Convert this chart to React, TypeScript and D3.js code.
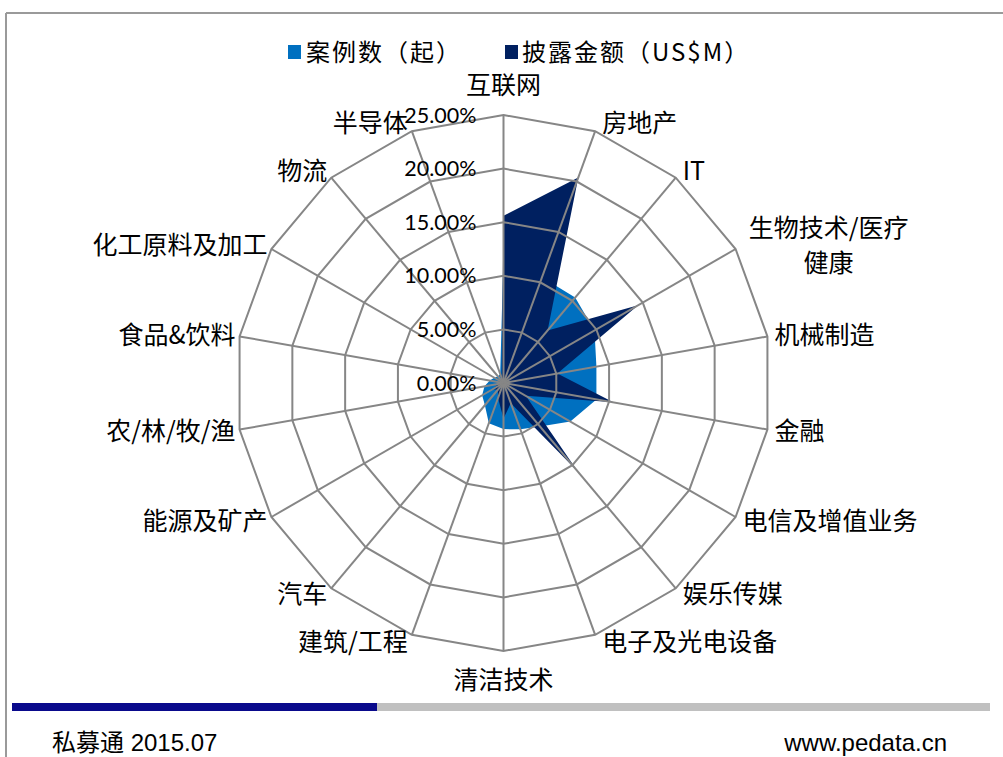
import React from 'react'
import * as d3 from 'd3'

const categories = [
  '互联网', '房地产', 'IT', '生物技术/医疗|健康', '机械制造', '金融',
  '电信及增值业务', '娱乐传媒', '电子及光电设备', '清洁技术', '建筑/工程', '汽车',
  '能源及矿产', '农/林/牧/渔', '食品&饮料', '化工原料及加工', '物流', '半导体',
]
// share of cases (%)
const caseShare = [12, 10.5, 10.4, 9.8, 8.8, 8.8, 7.2, 5.3, 4.6, 4.3, 4.0, 2.7, 2.3, 1.8, 1.3, 1.0, 0.8, 0.9]
// share of disclosed amount (%)
const amountShare = [15.6, 20.4, 6.4, 14.5, 5.1, 10.4, 2.4, 10.8, 2.0, 3.3, 1.5, 0.8, 1.2, 0.5, 0.6, 0.4, 0.3, 0.5]
const ticks = [0, 5, 10, 15, 20, 25]
const seriesNames = ['案例数（起）', '披露金额（US$M）']

const W = 1003
const H = 757
const cx = 503.5
const cy = 383
const R = 268
const cjk = '"Noto Sans CJK SC", "Noto Sans", sans-serif'
const gridColor = '#868686'

const App = () => {
  const r = d3.scaleLinear().domain([0, 25]).range([0, R])
  const angle = d3.scaleLinear().domain([0, categories.length]).range([0, 2 * Math.PI])

  const radial = d3.lineRadial<number>()
    .angle((_, i) => angle(i))
    .radius(d => r(d))
    .curve(d3.curveLinearClosed)

  const ring = (v: number) => radial(categories.map(() => v)) || ''

  const pt = (i: number, v: number) => {
    const a = angle(i)
    return [cx + r(v) * Math.sin(a), cy - r(v) * Math.cos(a)]
  }

  return (
    <svg width={W} height={H} style={{ position: 'absolute', left: 0, top: 0, background: '#fff' }}>
      {/* frame */}
      <line x1={6} y1={13} x2={W} y2={13} stroke="#9a9a9a" strokeWidth={2} />
      <line x1={6} y1={13} x2={6} y2={H} stroke="#9a9a9a" strokeWidth={2} />

      {/* legend */}
      <rect x={288} y={45} width={13} height={14} fill="#0070C0" />
      <text x={306} y={61} fontFamily={cjk} fontSize={24} letterSpacing={2} fill="#000">{seriesNames[0]}</text>
      <rect x={505} y={45} width={13} height={14} fill="#002060" />
      <text x={522} y={61} fontFamily={cjk} fontSize={24} letterSpacing={2} fill="#000">{seriesNames[1]}</text>

      <g transform={`translate(${cx},${cy})`}>
        <path d={radial(caseShare) || ''} fill="#0070C0" />
        <path d={radial(amountShare) || ''} fill="#002060" />
        {ticks.slice(1).map(t => (
          <path key={t} d={ring(t)} fill="none" stroke={gridColor} strokeWidth={2} />
        ))}
      </g>
      {categories.map((c, i) => {
        const [x, y] = pt(i, 25)
        return <line key={c} x1={cx} y1={cy} x2={x} y2={y} stroke={gridColor} strokeWidth={2} />
      })}

      {ticks.map(t => (
        <text key={t} x={cx - 27} y={cy - r(t)} dy="0.35em" textAnchor="end"
          fontFamily="Lato, 'Open Sans', sans-serif" fontSize={21.5} fill="#000">
          {t.toFixed(2) + '%'}
        </text>
      ))}

      {categories.map((c, i) => {
        const a = angle(i)
        const s = Math.sin(a)
        const co = Math.cos(a)
        const [vx, vy] = pt(i, 25)
        let x = vx
        let y = vy
        let anchor = 'middle'
        if (Math.abs(s) < 0.01) {
          y = vy + (co > 0 ? -30 : 29)
        } else {
          x = vx + (s > 0 ? 7 : -4)
          y = vy - 8 * co
          anchor = s > 0 ? 'start' : 'end'
        }
        const lines = c.split('|')
        if (lines.length > 1) {
          return (
            <text key={c} x={x + 86} y={y - 17} textAnchor="middle" fontFamily={cjk} fontSize={25} fill="#000">
              {lines.map((l, k) => (
                <tspan key={l} x={x + 86} dy={k === 0 ? '0.35em' : 35}>{l}</tspan>
              ))}
            </text>
          )
        }
        return (
          <text key={c} x={x} y={y} dy="0.35em" textAnchor={anchor} fontFamily={cjk} fontSize={25} fill="#000">
            {c}
          </text>
        )
      })}

      {/* footer */}
      <rect x={12} y={703} width={365} height={8} fill="#0A0A8C" />
      <rect x={377} y={703} width={613} height={8} fill="#C0C0C0" />
      <text x={52} y={751} fontFamily={`"Liberation Sans", ${cjk}`} fontSize={24} fill="#000">私募通 2015.07</text>
      <text x={947} y={751} textAnchor="end" fontFamily='"Liberation Sans", Arial, sans-serif' fontSize={24} fill="#000">www.pedata.cn</text>
    </svg>
  )
}

export default App
